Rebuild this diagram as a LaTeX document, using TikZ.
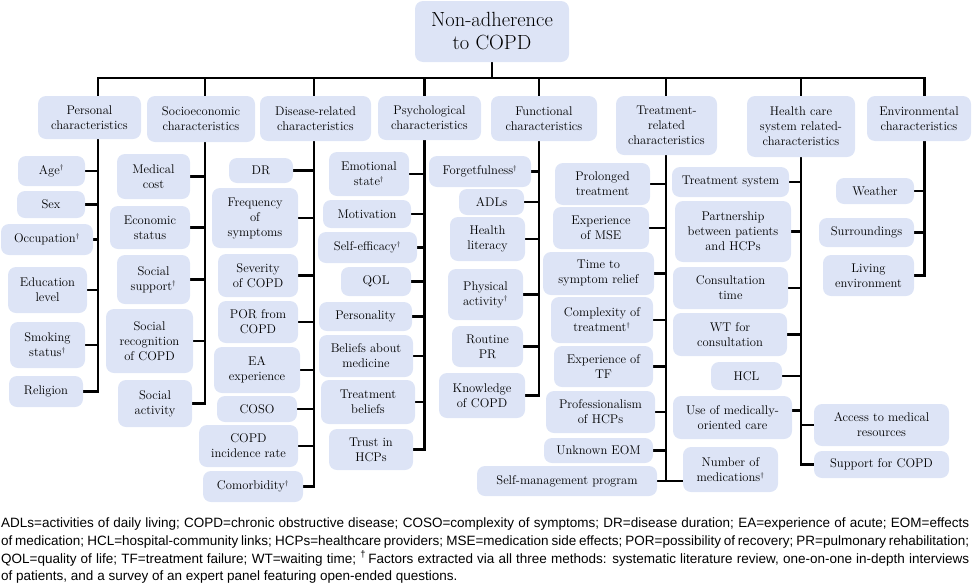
\documentclass[tikz,border=0pt]{standalone}
\usepackage{fontspec}
\newfontfamily\footfont{Liberation Sans}
\usetikzlibrary{backgrounds}
\definecolor{boxblue}{RGB}{221,228,246}
\newcommand\dg{\textsuperscript{\fontsize{7}{7}\selectfont $\dagger$}}
\newcommand\mybox[6]{\node[box,minimum width=#4pt,minimum height=#5pt] (#1) at (#2,#3) {#6};}
\begin{document}
\begin{tikzpicture}[x=1pt,y=-1pt,
  box/.style={fill=boxblue,rounded corners=8pt,align=center,inner sep=0pt,font=\rmfamily\fontsize{12.6}{15}\selectfont},
  ln/.style={line width=2.4pt,line join=miter},
  footline/.style={anchor=base west,inner sep=0pt,font=\footfont\fontsize{13.5}{16}\selectfont}]
\useasboundingbox (0,0) rectangle (973,584);

% root
\node[box,minimum width=154pt,minimum height=61pt,font=\rmfamily\fontsize{20.5}{23}\selectfont] (root) at (492,31.5) {Non-adherence\\to COPD};

% categories
\mybox{c1}{89.5}{117.5}{103}{43}{Personal\\characteristics}
\mybox{c2}{201}{119}{108}{46}{Socioeconomic\\characteristics}
\mybox{c3}{315.5}{118.5}{111}{45}{Disease-related\\characteristics}
\mybox{c4}{429.5}{118}{103}{44}{Psychological\\characteristics}
\mybox{c5}{544}{118.5}{106}{45}{Functional\\characteristics}
\mybox{c6}{666.5}{125.5}{101}{59}{Treatment-\\related\\characteristics}
\mybox{c7}{801}{126.5}{108}{61}{Health care\\system related-\\characteristics}
\mybox{c8}{919}{118.5}{104}{45}{Environmental\\characteristics}

% column 1
\mybox{age}{51.5}{171}{67}{30}{Age\dg}
\mybox{sex}{51}{204.5}{68}{27}{Sex}
\mybox{occ}{47}{239.5}{92}{31}{Occupation\dg}
\mybox{edu}{47.5}{290}{79}{46}{Education\\level}
\mybox{smo}{47.5}{345}{75}{46}{Smoking\\status\dg}
\mybox{rel}{46}{391.5}{74}{31}{Religion}

% column 2
\mybox{med}{153.5}{176.5}{73}{45}{Medical\\cost}
\mybox{eco}{150}{227.5}{80}{43}{Economic\\status}
\mybox{ssu}{153.5}{279.5}{73}{49}{Social\\support\dg}
\mybox{sre}{149.5}{341}{87}{64}{Social\\recognition\\of COPD}
\mybox{sac}{155}{403.5}{74}{47}{Social\\activity}

% column 3
\mybox{dr}{261}{170.5}{64}{25}{DR}
\mybox{fre}{255}{218}{86}{60}{Frequency\\of\\symptoms}
\mybox{sev}{258}{275.5}{80}{43}{Severity\\of COPD}
\mybox{por}{258}{322}{80}{42}{POR from\\COPD}
\mybox{ea}{257}{370}{86}{46}{EA\\experience}
\mybox{coso}{257}{409}{80}{26}{COSO}
\mybox{inc}{248.5}{446}{99}{42}{COPD\\incidence rate}
\mybox{com}{253}{486.5}{100}{31}{Comorbidity\dg}

% column 4
\mybox{emo}{369}{174}{80}{44}{Emotional\\state\dg}
\mybox{mot}{367}{214}{88}{28}{Motivation}
\mybox{sef}{367.5}{247.5}{99}{31}{Self-efficacy\dg}
\mybox{qol}{376}{281.5}{70}{29}{QOL}
\mybox{per}{365.5}{316.5}{93}{29}{Personality}
\mybox{bam}{366}{356}{94}{42}{Beliefs about\\medicine}
\mybox{trb}{368}{402}{94}{44}{Treatment\\beliefs}
\mybox{tru}{371}{449.5}{84}{41}{Trust in\\HCPs}

% column 5
\mybox{for}{480}{171.5}{102}{31}{Forgetfulness\dg}
\mybox{adl}{491.5}{202}{65}{26}{ADLs}
\mybox{hli}{487.5}{239}{75}{44}{Health\\literacy}
\mybox{phy}{485.5}{294.5}{75}{51}{Physical\\activity\dg}
\mybox{rpr}{487.5}{346.5}{71}{41}{Routine\\PR}
\mybox{kno}{482}{395.5}{86}{45}{Knowledge\\of COPD}

% column 6
\mybox{pro}{602.5}{184}{95}{42}{Prolonged\\treatment}
\mybox{mse}{601}{228}{96}{42}{Experience\\of MSE}
\mybox{tsr}{598.5}{273.5}{111}{43}{Time to\\symptom relief}
\mybox{cot}{602}{320}{102}{46}{Complexity of\\treatment\dg}
\mybox{etf}{603.5}{366.5}{99}{41}{Experience of\\TF}
\mybox{pho}{600.5}{412}{109}{42}{Professionalism\\of HCPs}
\mybox{eom}{598.5}{450.5}{109}{25}{Unknown EOM}
\mybox{smp}{567}{481}{180}{30}{Self-management program}
\mybox{nom}{730.5}{469.5}{95}{45}{Number of\\medications\dg}

% column 7
\mybox{tsy}{730.5}{182}{117}{30}{Treatment system}
\mybox{par}{733}{231.5}{116}{61}{Partnership\\between patients\\and HCPs}
\mybox{cti}{730.5}{288}{115}{42}{Consultation\\time}
\mybox{wt}{730}{334.5}{114}{43}{WT for\\consultation}
\mybox{hcl}{746.5}{376}{71}{28}{HCL}
\mybox{use}{732.5}{417.5}{119}{43}{Use of medically-\\oriented care}
\mybox{acc}{881.5}{425}{135}{42}{Access to medical\\resources}
\mybox{sup}{881.5}{464.5}{135}{27}{Support for COPD}

% column 8
\mybox{wea}{875}{191}{78}{26}{Weather}
\mybox{sur}{866.5}{232.5}{95}{29}{Surroundings}
\mybox{liv}{868.5}{275.5}{91}{41}{Living\\environment}

% trunk tops
\coordinate (t1) at (97.7,78);
\coordinate (t2) at (205,78);
\coordinate (t3) at (314,78);
\coordinate (t4) at (424.5,78);
\coordinate (t5) at (538.7,78);
\coordinate (t6) at (666,78);
\coordinate (t7) at (801,78);
\coordinate (t8) at (924.3,78);

% footer
\node[footline] (f1) at (1,527) {\makebox[968pt][s]{ADLs=activities of daily living; COPD=chronic obstructive disease; COSO=complexity of symptoms; DR=disease duration; EA=experience of acute; EOM=effects}};
\node[footline] (f2) at (1,545) {\makebox[968pt][s]{of medication; HCL=hospital-community links; HCPs=healthcare providers; MSE=medication side effects; POR=possibility of recovery; PR=pulmonary rehabilitation;}};
\node[footline] (f3) at (1,563) {\makebox[968pt][s]{QOL=quality of life; TF=treatment failure; WT=waiting time; \textsuperscript{†}\,Factors extracted via all three methods: systematic literature review, one-on-one in-depth interviews}};
\node[footline] (f4) at (1,580.5) {of patients, and a survey of an expert panel featuring open-ended questions.};

\begin{scope}[on background layer]
  \draw[ln] (root.south) -- (root.south |- t1);
  \draw[ln] (rel.east) -- (rel.east -| t1) -- (t1) -- (t8) -- (liv.east -| t8) -- (liv.east);
  \draw[ln] (sac.east) -- (sac.east -| t2) -- (t2);
  \draw[ln] (com.east) -- (com.east -| t3) -- (t3);
  \draw[ln] (tru.east) -- (tru.east -| t4) -- (t4);
  \draw[ln] (kno.east) -- (kno.east -| t5) -- (t5);
  \draw[ln] (t6) -- (smp.east -| t6);
  \draw[ln] (smp.east) -- (smp.east -| nom.west);
  \draw[ln] (sup.west) -- (sup.west -| t7) -- (t7);
  \foreach \n in {age,sex,occ,edu,smo} \draw[ln] (\n.east) -- (\n.east -| t1);
  \foreach \n in {med,eco,ssu,sre} \draw[ln] (\n.east) -- (\n.east -| t2);
  \foreach \n in {dr,fre,sev,por,ea,coso,inc} \draw[ln] (\n.east) -- (\n.east -| t3);
  \foreach \n in {emo,mot,sef,qol,per,bam,trb} \draw[ln] (\n.east) -- (\n.east -| t4);
  \foreach \n in {for,adl,hli,phy,rpr} \draw[ln] (\n.east) -- (\n.east -| t5);
  \foreach \n in {pro,mse,tsr,cot,etf,pho,eom} \draw[ln] (\n.east) -- (\n.east -| t6);
  \foreach \n in {tsy,par,cti,wt,hcl} \draw[ln] (\n.east) -- (\n.east -| t7);
  \draw[ln] ([yshift=7pt]use.east) -- ([yshift=7pt]use.east -| t7);
  \draw[ln] (acc.west) -- (acc.west -| t7);
  \foreach \n in {wea,sur} \draw[ln] (\n.east) -- (\n.east -| t8);
\end{scope}
\end{tikzpicture}
\end{document}
